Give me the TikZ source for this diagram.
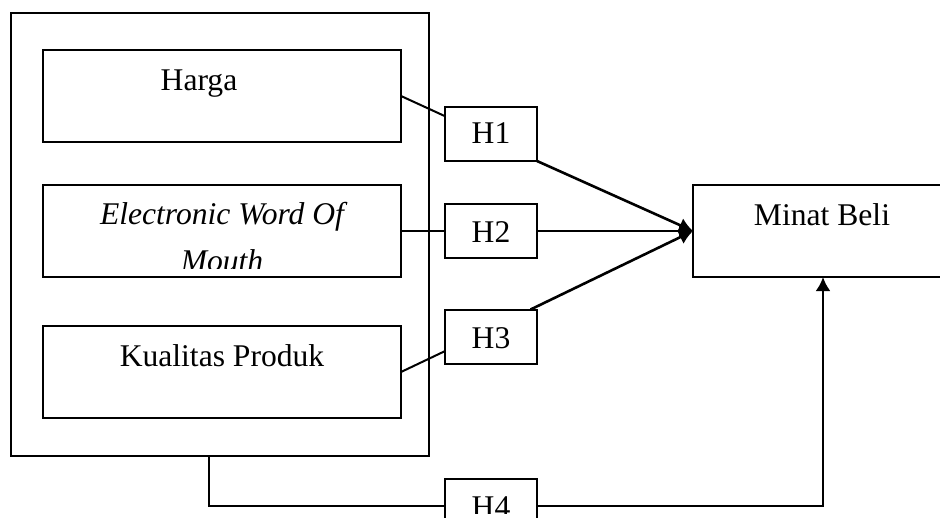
\documentclass[tikz,border=0pt]{standalone}
\usepackage{fontspec}
\setmainfont{Liberation Serif}
\usetikzlibrary{arrows.meta,calc}
\begin{document}
\begin{tikzpicture}[x=0.5pt,y=-0.5pt,
  box/.style={draw,line width=1pt,rectangle,inner sep=0pt,outer sep=0pt},
  hbox/.style={box,minimum width=46pt,minimum height=27pt},
  lbl/.style={anchor=base,inner sep=0pt,font=\fontsize{15.8}{18}\selectfont},
  conn/.style={line width=1pt},
  arr/.style={line width=1.3pt,-{Latex[length=7pt,width=7.5pt]}}]
\useasboundingbox (0,0) rectangle (940,518);
\clip (0,0) rectangle (940,518);
% boxes
\node[box,minimum width=209pt,minimum height=221.5pt] (outer) at (220,234.5) {};
\node[box,minimum width=179pt,minimum height=46pt] (harga) at (222,96) {};
\node[box,minimum width=179pt,minimum height=46pt] (ewom) at (222,231) {};
\node[box,minimum width=179pt,minimum height=46pt] (kual) at (222,372) {};
\node[hbox] (h1) at (491,134) {};
\node[hbox] (h2) at (491,231) {};
\node[hbox] (h3) at (491,336.5) {};
\node[hbox] (h4) at (491,506) {};
\node[box,minimum width=130pt,minimum height=46pt] (minat) at (823,231) {};
% texts
\node[lbl] (tharga) at (199,91) {Harga};
\node[lbl] (tewom1) at (222,224) {\itshape Electronic Word Of};
\begin{scope}
\clip (43,185) rectangle (401,268);
\node[lbl] (tewom2) at (222,271) {\itshape Mouth};
\end{scope}
\node[lbl] (tkual) at (222,366) {Kualitas Produk};
\node[lbl] (tminat) at (822,225) {Minat Beli};
\node[lbl] (th1) at (491,144) {H1};
\node[lbl] (th2) at (491,242) {H2};
\node[lbl] (th3) at (491,348) {H3};
\begin{scope}
\clip (446,480) rectangle (536,513);
\node[lbl] (th4) at (491,517) {H4};
\end{scope}
% connectors
\coordinate (h1in) at ($(h1.north west)!0.17!(h1.south west)$);
\coordinate (h3in) at ($(h3.north west)!0.77!(h3.south west)$);
\coordinate (h3out) at ($(h3.north west)!0.93!(h3.north east)$);
\coordinate (obot) at ($(outer.south west)!0.473!(outer.south east)$);
\draw[conn] (harga.east) -- (h1in);
\draw[conn] (ewom.east) -- (h2.west);
\draw[conn] (kual.east) -- (h3in);
\draw[arr] (h1.south east) -- (minat.west);
\draw[arr] (h2.east) -- (minat.west);
\draw[arr] (h3out) -- (minat.west);
\draw[conn] (obot) -- (obot |- h4.west) -- (h4.west);
\draw[arr] (h4.east) -| (minat.south);
\end{tikzpicture}
\end{document}
